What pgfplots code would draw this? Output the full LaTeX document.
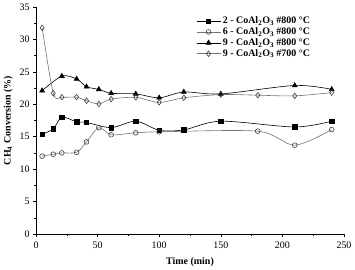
\documentclass[border=0pt]{standalone}
\usepackage{pgfplots}
\pgfplotsset{compat=1.18}
\usepackage{fontspec}
\setmainfont{Liberation Serif}
\begin{document}
\begin{tikzpicture}
\begin{axis}[
  name=ax,
  scale only axis,
  width=308bp, height=227bp,
  xmin=0, xmax=250, ymin=0, ymax=35,
  axis lines*=left,
  xtick={0,50,100,150,200,250},
  ytick={0,5,10,15,20,25,30,35},
  minor x tick num=1, minor y tick num=1,
  tick align=outside,
  major tick length=3pt, minor tick length=2pt,
  tick style={black, line width=0.5pt},
  axis line style={line width=0.6pt},
  tick label style={font=\fontsize{10}{11}\selectfont},
  xticklabel style={yshift=-1pt},
  /pgf/number format/assume math mode=true,
  xlabel={\textbf{Time (min)}},
  ylabel={\textbf{CH\textsubscript{4} Conversion (\%)}},
  label style={font=\fontsize{10}{11}\selectfont},
  xlabel style={at={(axis description cs:0.5,-0.125)}, anchor=center},
  ylabel style={at={(axis description cs:-0.09,0.5)}, anchor=center},
  legend style={at={(0.51,0.975)}, anchor=north west, draw=none, fill=none,
    font=\fontsize{10}{11}\selectfont\bfseries, row sep=-1.5pt,
    /tikz/every even column/.append style={column sep=0pt}},
  legend image code/.code={\draw[mark repeat=2,mark phase=2,#1] plot coordinates {(0bp,0bp) (12bp,0bp) (24bp,0bp)};},
  legend cell align=left,
  every axis plot/.append style={line width=0.6pt},
]
\addplot[black, smooth, mark=square*, mark size=2.2pt, mark options={fill=black}] coordinates {
(5,15.4) (14,16.2) (21,18.0) (33,17.3) (41,17.2) (61,16.4) (81,17.4) (100,16.0) (120,16.05) (150,17.4) (210,16.5) (240,17.4)};
\addlegendentry{2 - CoAl\textsubscript{2}O\textsubscript{3} \#800 °C}
\addplot[black!55, smooth, mark=o, mark size=2.4pt, mark options={draw=black!75, fill=white}] coordinates {
(5,12.0) (14,12.3) (21,12.5) (33,12.6) (41,14.2) (51,16.4) (61,15.3) (81,15.6) (100,15.75) (180,15.85) (210,13.7) (240,16.1)};
\addlegendentry{6 - CoAl\textsubscript{2}O\textsubscript{3} \#800 °C}
\addplot[black, smooth, mark=triangle*, mark size=2.8pt, mark options={fill=black}] coordinates {
(5,22.1) (21,24.35) (33,23.9) (41,22.7) (51,22.3) (61,21.7) (81,21.6) (100,21.0) (120,21.9) (150,21.6) (210,22.9) (240,22.3)};
\addlegendentry{9 - CoAl\textsubscript{2}O\textsubscript{3} \#800 °C}
\addplot[black!55, smooth, mark=diamond, mark size=2.8pt, mark options={draw=black!75, fill=white}] coordinates {
(5,31.8) (14,21.7) (21,21.1) (33,21.1) (41,20.55) (51,20.05) (61,20.8) (81,21.06) (100,20.3) (120,21.0) (150,21.5) (180,21.4) (210,21.3) (240,21.8)};
\addlegendentry{9 - CoAl\textsubscript{2}O\textsubscript{3} \#700 °C}
\end{axis}
\pgfresetboundingbox
\useasboundingbox ([shift={(-36bp,-36bp)}]ax.south west) rectangle ([shift={(11bp,7bp)}]ax.north east);
\end{tikzpicture}
\end{document}
